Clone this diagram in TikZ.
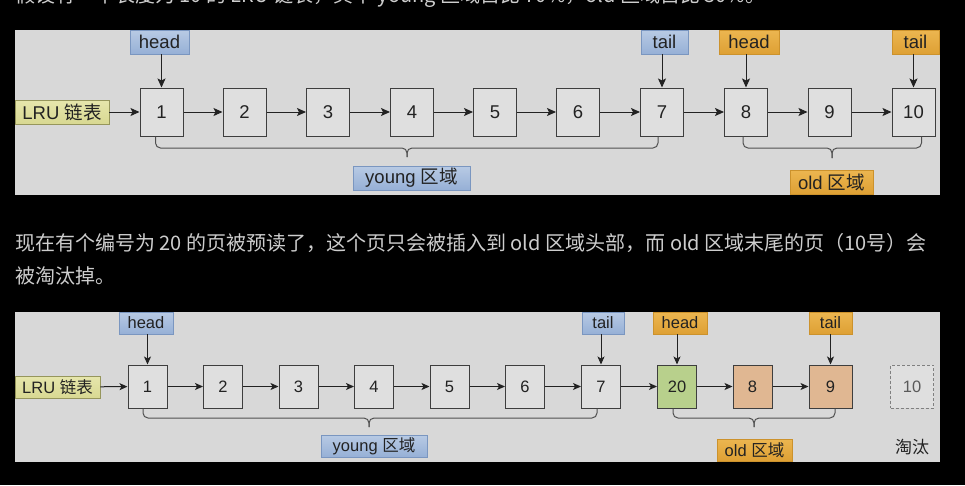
\documentclass[tikz,border=0pt]{standalone}
\usepackage{fontspec}
\setmainfont{Liberation Sans}
\newfontfamily\cjk{Noto Sans CJK SC}
\usetikzlibrary{positioning, arrows.meta}
\definecolor{panelgray}{RGB}{216,216,216}
\definecolor{pagefill}{RGB}{223,223,223}
\definecolor{edgegray}{RGB}{62,62,62}
\definecolor{inkgray}{RGB}{34,34,34}
\definecolor{bracegray}{RGB}{80,80,80}
\definecolor{prosegray}{RGB}{205,205,205}
\definecolor{youngedge}{RGB}{122,150,192}
\definecolor{youngtop}{RGB}{184,202,228}
\definecolor{youngbot}{RGB}{150,176,214}
\definecolor{oldedge}{RGB}{204,146,44}
\definecolor{oldtop}{RGB}{236,182,80}
\definecolor{oldbot}{RGB}{222,160,52}
\definecolor{listedge}{RGB}{150,150,92}
\definecolor{listtop}{RGB}{230,230,172}
\definecolor{listbot}{RGB}{216,216,146}
\definecolor{newgreen}{RGB}{184,208,140}
\definecolor{movedpage}{RGB}{224,183,146}
\definecolor{dropgray}{RGB}{128,128,128}

\tikzset{
  page/.style={draw=edgegray, fill=pagefill, line width=1pt, inner sep=0pt, text=inkgray},
  bigpage/.style={page, minimum width=43pt, minimum height=48pt, font=\fontsize{18.5pt}{20pt}\selectfont},
  smallpage/.style={page, minimum width=39pt, minimum height=43pt, font=\fontsize{16.5pt}{18pt}\selectfont},
  tag/.style={draw=#1edge, top color=#1top, bottom color=#1bot, line width=0.8pt, inner sep=0pt, text=inkgray},
  bigtag/.style={tag=#1, minimum height=24pt, font=\fontsize{18.5pt}{20pt}\selectfont},
  smalltag/.style={tag=#1, minimum height=22pt, font=\fontsize{16.5pt}{18pt}\selectfont},
  link/.style={draw=inkgray, line width=1pt, -{Stealth[length=9pt,width=8pt,inset=2pt]}},
  smalllink/.style={draw=inkgray, line width=1pt, -{Stealth[length=8pt,width=7pt,inset=2pt]}},
  bracket/.style={draw=bracegray, line width=1pt, rounded corners=5pt},
  prose/.style={inner sep=0pt, text=prosegray, font=\cjk\fontsize{20pt}{22pt}\selectfont},
}

\begin{document}
\begin{tikzpicture}[x=1pt, y=-1pt]
    \useasboundingbox (0,0) rectangle (965,485);
    \fill[black] (0,0) rectangle (965,485);

    % text around the pictures
    \node[prose, anchor=base west] (intro) at (15,2) {假设有一个长度为 10 的 LRU 链表，其中 young 区域占比 70\%，old 区域占比 30\%。};
    \node[prose, anchor=base west] (noteone) at (15,250) {现在有个编号为 20 的页被预读了，这个页只会被插入到 old 区域头部，而 old 区域末尾的页（10号）会};
    \node[prose, anchor=base west] (notetwo) at (15,283) {被淘汰掉。};

    % before: 10 pages
    \fill[panelgray] (15,30) rectangle (940,195);
    \node[bigtag=list, minimum width=94pt] (alru) at (62,112) {LRU {\cjk 链表}};
    \node[bigpage] (a1) at (161.5,112) {1};
    \node[bigpage] (a2) at (244.5,112) {2};
    \node[bigpage] (a3) at (328,112) {3};
    \node[bigpage] (a4) at (412,112) {4};
    \node[bigpage] (a5) at (495,112) {5};
    \node[bigpage] (a6) at (578,112) {6};
    \node[bigpage] (a7) at (662,112) {7};
    \node[bigpage] (a8) at (746,112) {8};
    \node[bigpage] (a9) at (829.5,112) {9};
    \node[bigpage] (a10) at (913.5,112) {10};
    \node[bigtag=young, minimum width=59pt] (ayhead) at (159.5,42) {head};
    \node[bigtag=young, minimum width=47pt] (aytail) at (664.5,42) {tail};
    \node[bigtag=old, minimum width=60pt] (aohead) at (749,42) {head};
    \node[bigtag=old, minimum width=47pt] (aotail) at (915.5,42) {tail};
    \node[bigtag=young, minimum width=117pt] (ayoung) at (411.5,178) {young {\cjk 区域}};
    \node[bigtag=old, minimum width=83pt] (aold) at (831.5,182) {old {\cjk 区域}};

    \draw[link] (alru) -- (a1);
    \draw[link] (a1) -- (a2);
    \draw[link] (a2) -- (a3);
    \draw[link] (a3) -- (a4);
    \draw[link] (a4) -- (a5);
    \draw[link] (a5) -- (a6);
    \draw[link] (a6) -- (a7);
    \draw[link] (a7) -- (a8);
    \draw[link] (a8) -- (a9);
    \draw[link] (a9) -- (a10);
    \draw[link] (ayhead.south -| a1) -- (a1);
    \draw[link] (aytail.south -| a7) -- (a7);
    \draw[link] (aohead.south -| a8) -- (a8);
    \draw[link] (aotail.south -| a10) -- (a10);

    \coordinate (aymid) at (407,148);
    \coordinate (aytip) at (407,157);
    \draw[bracket] ([xshift=-6pt]a1.south) |- (aymid) -- (aytip);
    \draw[bracket] ([xshift=-4pt]a7.south) |- (aymid) -- (aytip);
    \coordinate (aomid) at (832,148);
    \coordinate (aotip) at (832,158);
    \draw[bracket] ([xshift=-3pt]a8.south) |- (aomid) -- (aotip);
    \draw[bracket] ([xshift=8pt]a10.south) |- (aomid) -- (aotip);

    % after: page 20 read ahead
    \fill[panelgray] (15,312) rectangle (940,462);
    \node[smalltag=list, minimum width=85pt] (blru) at (57.5,387) {LRU {\cjk 链表}};
    \node[smallpage] (b1) at (147.5,386.5) {1};
    \node[smallpage] (b2) at (223,386.5) {2};
    \node[smallpage] (b3) at (298.5,386.5) {3};
    \node[smallpage] (b4) at (374,386.5) {4};
    \node[smallpage] (b5) at (449.5,386.5) {5};
    \node[smallpage] (b6) at (525,386.5) {6};
    \node[smallpage] (b7) at (601,386.5) {7};
    \node[smallpage, fill=newgreen] (b20) at (677,386.5) {20};
    \node[smallpage, fill=movedpage] (b8) at (752.5,386.5) {8};
    \node[smallpage, fill=movedpage, minimum width=43pt] (b9) at (830.5,386.5) {9};
    \node[smallpage, draw=dropgray, dash pattern=on 3pt off 2pt, text=dropgray!70!black, minimum width=43pt] (b10) at (912,386.5) {10};
    \node[smalltag=young, minimum width=54pt] (byhead) at (146,323) {head};
    \node[smalltag=young, minimum width=42pt] (bytail) at (603,323) {tail};
    \node[smalltag=old, minimum width=54pt] (bohead) at (680,323) {head};
    \node[smalltag=old, minimum width=43pt] (botail) at (830.5,323) {tail};
    \node[smalltag=young, minimum width=106pt] (byoung) at (374,446) {young {\cjk 区域}};
    \node[smalltag=old, minimum width=75pt] (bold) at (754.5,450) {old {\cjk 区域}};
    \node[text=inkgray, font=\cjk\fontsize{17pt}{19pt}\selectfont] (bdrop) at (912,447) {淘汰};

    \draw[smalllink] (blru) -- (b1);
    \draw[smalllink] (b1) -- (b2);
    \draw[smalllink] (b2) -- (b3);
    \draw[smalllink] (b3) -- (b4);
    \draw[smalllink] (b4) -- (b5);
    \draw[smalllink] (b5) -- (b6);
    \draw[smalllink] (b6) -- (b7);
    \draw[smalllink] (b7) -- (b20);
    \draw[smalllink] (b20) -- (b8);
    \draw[smalllink] (b8) -- (b9);
    \draw[smalllink] (byhead.south -| b1) -- (b1);
    \draw[smalllink] (bytail.south -| b7) -- (b7);
    \draw[smalllink] (bohead.south -| b20) -- (b20);
    \draw[smalllink] (botail.south -| b9) -- (b9);

    \coordinate (bymid) at (369,418);
    \coordinate (bytip) at (369,427);
    \draw[bracket] ([xshift=-4.5pt]b1.south) |- (bymid) -- (bytip);
    \draw[bracket] ([xshift=-4pt]b7.south) |- (bymid) -- (bytip);
    \coordinate (bomid) at (754,418);
    \coordinate (botip) at (754,427);
    \draw[bracket] ([xshift=-4pt]b20.south) |- (bomid) -- (botip);
    \draw[bracket] ([xshift=4.5pt]b9.south) |- (bomid) -- (botip);
\end{tikzpicture}
\end{document}
